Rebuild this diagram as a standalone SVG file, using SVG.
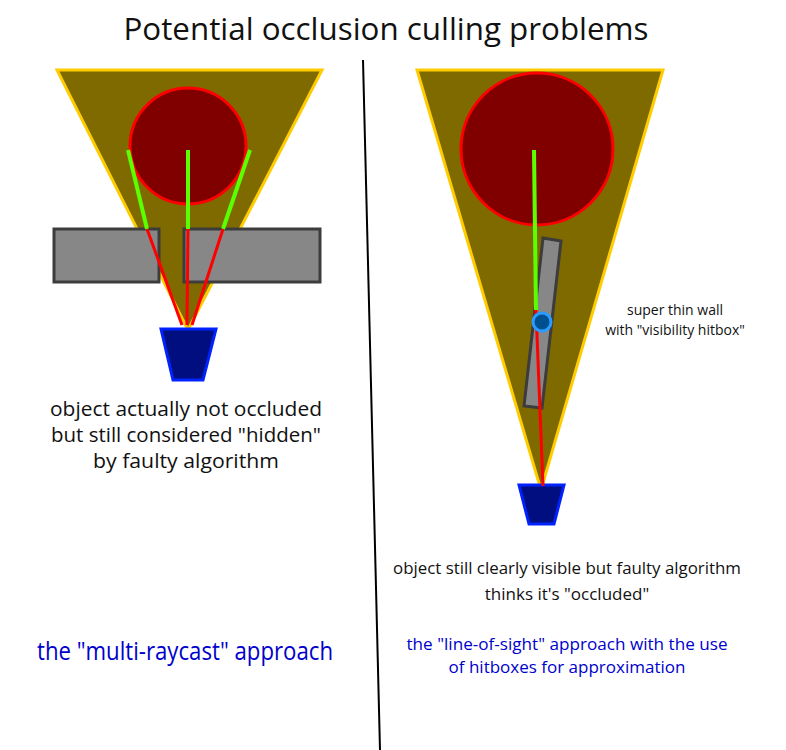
<svg xmlns="http://www.w3.org/2000/svg" width="786" height="750" viewBox="0 0 786 750">
<style>
text{font-family:"Open Sans","Liberation Sans",sans-serif;text-anchor:middle;fill:#111}
.cone{fill:#7f6a00;stroke:#ffcc00;stroke-width:3}
.ball{fill:#800000;stroke:#ff0000;stroke-width:3}
.wall{fill:#878787;stroke:#3c3c3c;stroke-width:3}
.cam{fill:#000e80;stroke:#0022ff;stroke-width:3}
.g{stroke:#5aff00;stroke-width:4}
.r{stroke:#ff0000;stroke-width:3}
.blue{fill:#0000cc}
</style>
<rect width="786" height="750" fill="#fff"/>
<text x="386" y="40" font-size="31" textLength="525" lengthAdjust="spacingAndGlyphs">Potential occlusion culling problems</text>
<line x1="363" y1="60" x2="380" y2="750" stroke="#000" stroke-width="2"/>
<g id="left-scene">
<polygon class="cone" points="57,70 322,70 188,330"/>
<circle class="ball" cx="188" cy="146" r="58"/>
<rect class="wall" x="54" y="229" width="105" height="53"/>
<rect class="wall" x="184" y="229" width="136" height="53"/>
<polygon class="cam" points="161,329 216,329 203,380 173,380"/>
</g>
<g id="right-scene">
<polygon class="cone" points="417,70 663,70 541,490"/>
<circle class="ball" cx="537" cy="149" r="76"/>
<polygon class="wall" points="543,238 561,241 542,408 524,406"/>
<polygon class="cam" points="519,485 564,485 554,524 529,524"/>
</g>
<g id="connectors">
<line class="g" x1="128" y1="150" x2="147" y2="229"/>
<line class="r" x1="147" y1="229" x2="182" y2="325"/>
<line class="g" x1="188" y1="150" x2="188" y2="229"/>
<line class="r" x1="188" y1="229" x2="187" y2="325"/>
<line class="g" x1="250" y1="150" x2="223" y2="229"/>
<line class="r" x1="223" y1="229" x2="192" y2="325"/>
<line class="g" x1="534" y1="150" x2="536" y2="310"/>
<line class="r" x1="536" y1="310" x2="543" y2="486"/>
</g>
<g id="hitbox">
<circle cx="542" cy="322" r="9" fill="#004f8f" stroke="#2a9cff" stroke-width="3"/>
</g>
<g id="labels">
<text x="186" y="416" font-size="20" textLength="272" lengthAdjust="spacingAndGlyphs">object actually not occluded</text>
<text x="186" y="442" font-size="20" textLength="270" lengthAdjust="spacingAndGlyphs">but still considered "hidden"</text>
<text x="186" y="468" font-size="20" textLength="186" lengthAdjust="spacingAndGlyphs">by faulty algorithm</text>
<text x="185" y="660" font-size="26" class="blue" textLength="296" lengthAdjust="spacingAndGlyphs">the "multi-raycast" approach</text>
<text x="675" y="315" font-size="14">super thin wall</text>
<text x="675" y="335" font-size="14">with "visibility hitbox"</text>
<text x="567" y="574" font-size="17" textLength="348" lengthAdjust="spacingAndGlyphs">object still clearly visible but faulty algorithm</text>
<text x="567" y="600" font-size="17">thinks it's "occluded"</text>
<text x="567" y="650" font-size="17" class="blue" textLength="321" lengthAdjust="spacingAndGlyphs">the "line-of-sight" approach with the use</text>
<text x="567" y="673" font-size="17" class="blue">of hitboxes for approximation</text>
</g>
</svg>
